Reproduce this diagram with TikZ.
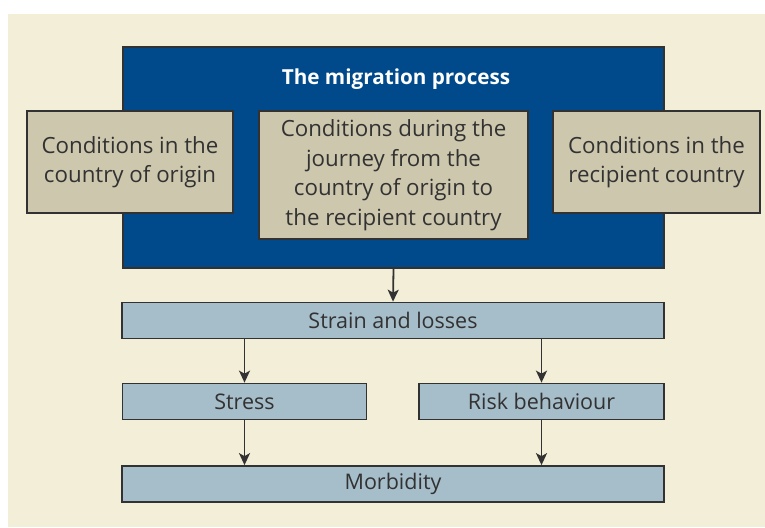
\documentclass[tikz,border=0pt]{standalone}
\usepackage{fontspec}
\setmainfont{Open Sans}
\usetikzlibrary{arrows.meta}
\definecolor{panel}{RGB}{243,238,216}
\definecolor{migblue}{RGB}{0,74,139}
\definecolor{tan}{RGB}{204,199,173}
\definecolor{steel}{RGB}{166,189,202}
\definecolor{ink}{RGB}{50,50,50}

\begin{document}
\begin{tikzpicture}[x=1pt,y=-1pt,
	box/.style={draw=ink,line width=1.7pt,inner sep=0pt,align=center,text=ink},
	condbox/.style={box,fill=tan,font=\fontsize{22.3}{29.5}\selectfont},
	effectbox/.style={box,fill=steel,font=\fontsize{21.5}{26}\selectfont},
	arr/.style={draw=ink,line width=1.8pt,-{Stealth[length=12pt,width=11pt,inset=3pt]}}]
	\useasboundingbox (0,0) rectangle (765,527);
	\fill[panel] (7.5,14) rectangle (765,527);
	% the migration process
	\node[box,fill=migblue,minimum width=541pt,minimum height=221pt] (process) at (393.5,157.5) {};
	\node[text=white,font=\bfseries\fontsize{20.7}{24}\selectfont] (title) at (396,79) {The migration process};
	\begin{scope}[every node/.style={condbox,minimum height=102pt}]
	\node[minimum width=206pt] (origin) at (130,162) {Conditions in the\\country of origin};
	\node[minimum width=269pt,minimum height=128pt] (journey) at (393.5,175) {Conditions during the\\journey from the\\country of origin to\\the recipient country};
	\node[minimum width=207pt] (recipient) at (656.5,162) {Conditions in the\\recipient country};
	\end{scope}
	% consequences
	\begin{scope}[every node/.style={effectbox,minimum height=36pt}]
	\node[minimum width=542pt] (strain) at (393,320.5) {Strain and losses};
	\node[minimum width=244pt] (stress) at (244.5,401.5) {Stress};
	\node[minimum width=245pt] (risk) at (541.5,401.5) {Risk behaviour};
	\node[minimum width=542pt] (morbidity) at (393,484) {Morbidity};
	\end{scope}
	\draw[arr] (process.south) -- (strain.north);
	\draw[arr] (stress.north |- strain.south) -- (stress.north);
	\draw[arr] (risk.north |- strain.south) -- (risk.north);
	\draw[arr] (stress.south) -- (stress.south |- morbidity.north);
	\draw[arr] (risk.south) -- (risk.south |- morbidity.north);
\end{tikzpicture}
\end{document}
